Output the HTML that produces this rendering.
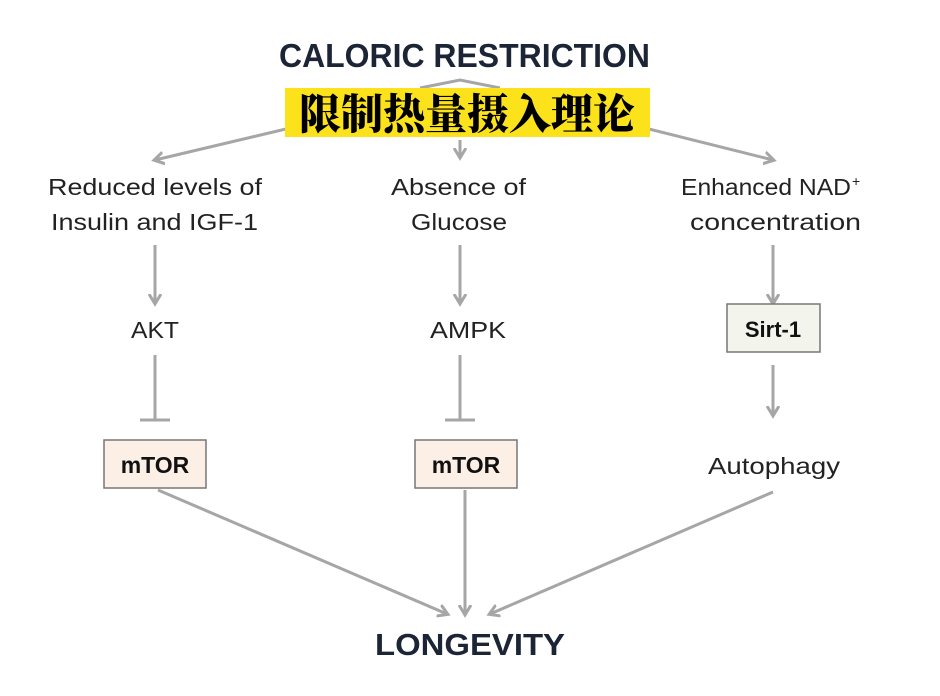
<!DOCTYPE html>
<html><head><meta charset="utf-8"><style>
body{margin:0;background:#fff;}
svg{display:block}
text{font-family:"Liberation Sans","DejaVu Sans",sans-serif;}
</style></head><body>
<svg width="940" height="696" viewBox="0 0 940 696" xmlns="http://www.w3.org/2000/svg">
<defs>
<marker id="a" markerWidth="14" markerHeight="14" refX="9" refY="7" orient="auto" markerUnits="userSpaceOnUse"><path d="M0,1 L10,7 L0,13" fill="none" stroke="#a6a6a6" stroke-width="3"/></marker>
</defs>
<g stroke="#a6a6a6" stroke-width="3" fill="none">
<line x1="290" y1="128" x2="155" y2="160" marker-end="url(#a)"/>
<line x1="460" y1="140" x2="460" y2="157" marker-end="url(#a)"/>
<line x1="645" y1="128" x2="773" y2="160" marker-end="url(#a)"/>
<polyline points="420,88 460,80 500,88"/>
<line x1="155" y1="245" x2="155" y2="303" marker-end="url(#a)"/>
<line x1="460" y1="245" x2="460" y2="303" marker-end="url(#a)"/>
<line x1="773" y1="245" x2="773" y2="303" marker-end="url(#a)"/>
<line x1="155" y1="355" x2="155" y2="420"/><line x1="140" y1="420" x2="170" y2="420"/>
<line x1="460" y1="355" x2="460" y2="420"/><line x1="445" y1="420" x2="475" y2="420"/>
<line x1="773" y1="365" x2="773" y2="415" marker-end="url(#a)"/>
<line x1="158" y1="490" x2="447" y2="614" marker-end="url(#a)"/>
<line x1="465" y1="490" x2="465" y2="614" marker-end="url(#a)"/>
<line x1="773" y1="492" x2="490" y2="614" marker-end="url(#a)"/>
</g>
<text x="279" y="67" textLength="371" lengthAdjust="spacingAndGlyphs" font-size="33" font-weight="bold" fill="#1c2536">CALORIC RESTRICTION</text>
<rect x="285" y="88" width="365" height="49" fill="#fbe21a"/>
<text x="467" y="129" text-anchor="middle" font-size="42" font-weight="900" fill="#000" style='font-family:"Noto Serif CJK SC","Noto Sans CJK SC",serif'>限制热量摄入理论</text>
<g font-size="23" fill="#222">
<text x="48" y="195" textLength="214" lengthAdjust="spacingAndGlyphs">Reduced levels of</text>
<text x="51" y="230" textLength="207" lengthAdjust="spacingAndGlyphs">Insulin and IGF-1</text>
<text x="391" y="195" textLength="135" lengthAdjust="spacingAndGlyphs">Absence of</text>
<text x="411" y="230" textLength="96" lengthAdjust="spacingAndGlyphs">Glucose</text>
<text x="681" y="195" textLength="170" lengthAdjust="spacingAndGlyphs">Enhanced NAD</text><text x="852" y="186" font-size="14">+</text>
<text x="690" y="230" textLength="171" lengthAdjust="spacingAndGlyphs">concentration</text>
<text x="131" y="338" textLength="48" lengthAdjust="spacingAndGlyphs">AKT</text>
<text x="430" y="338" textLength="76" lengthAdjust="spacingAndGlyphs">AMPK</text>
<text x="708" y="474" textLength="132" lengthAdjust="spacingAndGlyphs">Autophagy</text>
</g>
<rect x="727" y="304" width="93" height="48" fill="#f3f5ec" stroke="#777" stroke-width="1.5"/>
<text x="773" y="337" text-anchor="middle" font-size="22" font-weight="bold" fill="#111">Sirt-1</text>
<rect x="104" y="440" width="102" height="48" fill="#fcefe6" stroke="#777" stroke-width="1.5"/>
<text x="155" y="473" text-anchor="middle" font-size="23" font-weight="bold" fill="#111">mTOR</text>
<rect x="415" y="440" width="102" height="48" fill="#fcefe6" stroke="#777" stroke-width="1.5"/>
<text x="466" y="473" text-anchor="middle" font-size="23" font-weight="bold" fill="#111">mTOR</text>
<text x="375" y="655" textLength="190" lengthAdjust="spacingAndGlyphs" font-size="31" font-weight="bold" fill="#1c2536">LONGEVITY</text>
</svg>
</body></html>
